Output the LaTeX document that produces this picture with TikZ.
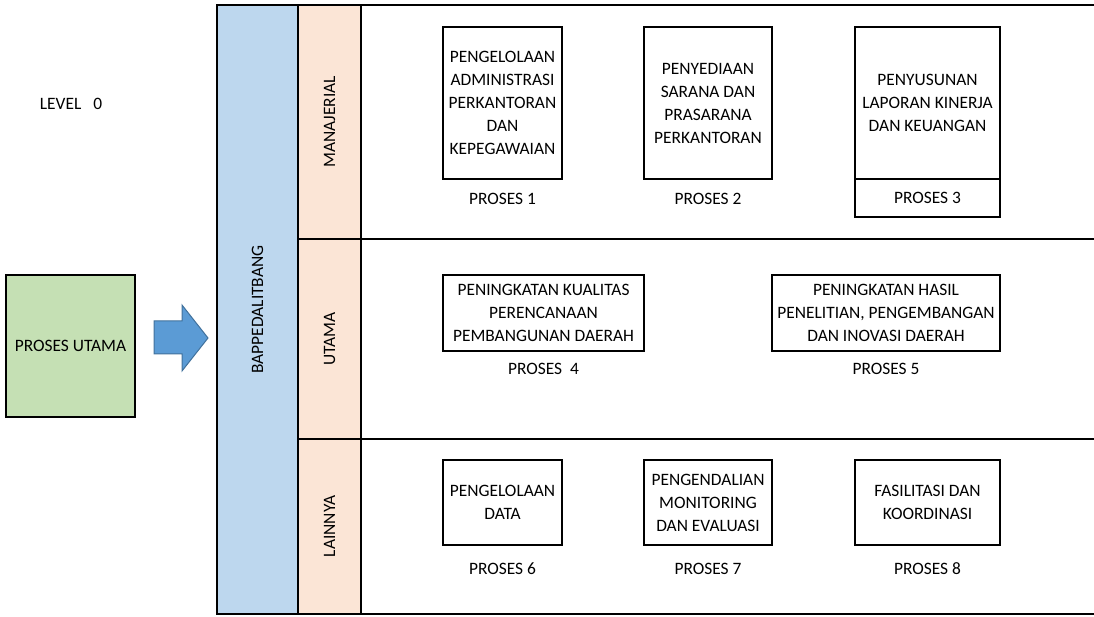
\documentclass[tikz,border=0pt]{standalone}
\usepackage{fontspec}
\setmainfont{Carlito}
\usetikzlibrary{positioning}
\definecolor{bandblue}{HTML}{BDD7EE}
\definecolor{bandpeach}{HTML}{FBE5D6}
\definecolor{boxgreen}{HTML}{C5E0B4}
\definecolor{arrowblue}{HTML}{5B9BD5}
\definecolor{arrowedge}{HTML}{41719C}

\begin{document}
\begin{tikzpicture}[x=1pt,y=1pt,
  every node/.style={font=\fontsize{17.4}{23}\selectfont},
  proc/.style={draw,line width=2pt,outer sep=0pt,inner sep=0pt,align=center},
  tag/.style={inner sep=0pt,text height=11.2pt,text depth=0pt},
  lane/.style={draw,line width=2pt,outer sep=0pt,inner sep=0pt,rotate=90}]
\useasboundingbox (0,0) rectangle (1094,616);

% left side
\node (level) at (71,512) {LEVEL\hspace{12pt}0};
\node[draw,line width=2pt,fill=boxgreen,minimum width=129pt,minimum height=142pt] (utama) at (70.5,270) {PROSES UTAMA};
\filldraw[fill=arrowblue,draw=arrowedge,line width=1pt] (154,295) -- (182,295) -- (182,311) -- (208,278) -- (182,245) -- (182,262) -- (154,262) -- cycle;

% bands
\node[lane,fill=bandblue,minimum width=609pt,minimum height=81pt] (bappeda) at (257.5,306.5) {BAPPEDALITBANG};
\node[lane,fill=bandpeach,minimum width=234pt,minimum height=63pt] (manajerial) at (329.5,494) {MANAJERIAL};
\node[lane,fill=bandpeach,minimum width=200pt,minimum height=63pt] (utamaband) at (329.5,277) {UTAMA};
\node[lane,fill=bandpeach,minimum width=175pt,minimum height=63pt] (lainnya) at (329.5,89.5) {LAINNYA};
\foreach \y in {611,377,177,2}
  \draw[line width=2pt] (361,\y) -- (1094,\y);

% manajerial
\node[proc,minimum width=119pt,minimum height=152pt] (p1) at (502.5,513) {PENGELOLAAN\\ADMINISTRASI\\PERKANTORAN\\DAN\\KEPEGAWAIAN};
\node[proc,minimum width=128pt,minimum height=152pt] (p2) at (708,513) {PENYEDIAAN\\SARANA DAN\\PRASARANA\\PERKANTORAN};
\node[proc,minimum width=145pt,minimum height=152pt] (p3) at (927.5,513) {PENYUSUNAN\\LAPORAN KINERJA\\DAN KEUANGAN};
\node[proc,minimum width=145pt,minimum height=38pt,below=0pt of p3] (t3) {PROSES 3};
\node[tag,below=14pt of p1] (t1) {PROSES 1};
\node[tag,below=14pt of p2] (t2) {PROSES 2};

% utama
\node[proc,minimum width=201pt,minimum height=76pt] (p4) at (543.5,303) {PENINGKATAN KUALITAS\\PERENCANAAN\\PEMBANGUNAN DAERAH};
\node[proc,minimum width=228pt,minimum height=76pt] (p5) at (886,303) {PENINGKATAN HASIL\\PENELITIAN, PENGEMBANGAN\\DAN INOVASI DAERAH};
\node[tag,below=12.4pt of p4] (t4) {PROSES\ \ 4};
\node[tag,below=12.4pt of p5] (t5) {PROSES 5};

% lainnya
\node[proc,minimum width=119pt,minimum height=85pt] (p6) at (502.5,113.5) {PENGELOLAAN\\DATA};
\node[proc,minimum width=128pt,minimum height=85pt] (p7) at (708,113.5) {PENGENDALIAN\\MONITORING\\DAN EVALUASI};
\node[proc,minimum width=145pt,minimum height=85pt] (p8) at (927.5,113.5) {FASILITASI DAN\\KOORDINASI};
\node[tag,below=18.4pt of p6] (t6) {PROSES 6};
\node[tag,below=18.4pt of p7] (t7) {PROSES 7};
\node[tag,below=18.4pt of p8] (t8) {PROSES 8};
\end{tikzpicture}
\end{document}
